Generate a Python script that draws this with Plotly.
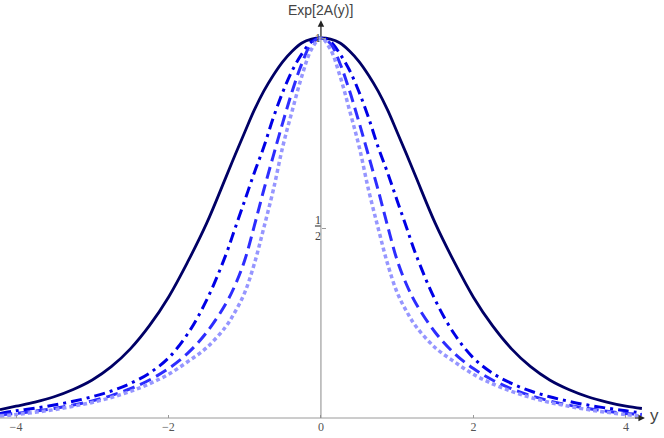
import plotly.graph_objects as go

# sample positions (y)
y_pos = [-4.21, -4.0, -3.75, -3.5, -3.25, -3.0, -2.75, -2.5, -2.25, -2.0, -1.75, -1.5, -1.25, -1.125, -1.0,
         -0.875, -0.75, -0.625, -0.5, -0.375, -0.25, -0.125,
         0.0,
         0.125, 0.25, 0.375, 0.5, 0.625, 0.75, 0.875, 1.0, 1.125, 1.25, 1.5, 1.75, 2.0, 2.25, 2.5, 2.75,
         3.0, 3.25, 3.5, 3.75, 4.0, 4.21]

# Exp[2A(y)] values
solid = [0.022, 0.031, 0.042, 0.056, 0.075, 0.1, 0.135, 0.182, 0.243, 0.318, 0.41, 0.512, 0.632, 0.693, 0.752,
         0.81, 0.86, 0.902, 0.938, 0.966, 0.987, 0.997,
         1.0,
         0.997, 0.987, 0.966, 0.938, 0.902, 0.86, 0.81, 0.752, 0.693, 0.632, 0.512, 0.41, 0.318, 0.243, 0.182, 0.135,
         0.1, 0.075, 0.056, 0.042, 0.031, 0.025]
dashdot = [0.012, 0.019, 0.026, 0.034, 0.044, 0.056, 0.071, 0.091, 0.118, 0.158, 0.221, 0.31, 0.428, 0.50, 0.572,
           0.645, 0.713, 0.79, 0.858, 0.915, 0.958, 0.99,
           1.0,
           0.99, 0.958, 0.915, 0.858, 0.79, 0.713, 0.645, 0.572, 0.50, 0.428, 0.31, 0.221, 0.158, 0.118, 0.091, 0.071,
           0.056, 0.044, 0.034, 0.026, 0.019, 0.013]
dashed = [0.008, 0.012, 0.018, 0.025, 0.034, 0.045, 0.059, 0.077, 0.1, 0.13, 0.17, 0.225, 0.30, 0.35, 0.415,
          0.505, 0.60, 0.69, 0.778, 0.861, 0.933, 0.985,
          1.0,
          0.985, 0.933, 0.861, 0.778, 0.69, 0.60, 0.505, 0.415, 0.35, 0.30, 0.225, 0.17, 0.13, 0.1, 0.077, 0.059,
          0.045, 0.034, 0.025, 0.018, 0.012, 0.009]
dotted = [0.005, 0.009, 0.015, 0.022, 0.031, 0.041, 0.054, 0.07, 0.09, 0.115, 0.148, 0.185, 0.24, 0.28, 0.33,
          0.405, 0.5, 0.6, 0.715, 0.81, 0.9, 0.97,
          1.0,
          0.97, 0.9, 0.81, 0.715, 0.6, 0.5, 0.405, 0.33, 0.28, 0.24, 0.185, 0.148, 0.115, 0.09, 0.07, 0.054,
          0.041, 0.031, 0.022, 0.015, 0.009, 0.005]

x_ticks = [-4, -2, 0, 2, 4]
x_tick_text = ["\u22124", "\u22122", "0", "2", "4"]
y_ticks = [0.5, 1.0]
y_tick_text = ["<u>1</u><br>2", "1"]

series = [
    (solid, "rgb(0,0,102)", "solid", 2.8),
    (dashdot, "rgb(0,0,230)", "11px,5px,3px,5px", 3.0),
    (dashed, "rgb(45,45,255)", "12px,6px", 3.0),
    (dotted, "rgb(150,150,255)", "4px,3px", 3.5),
]

fig = go.Figure()
for vals, col, dash, w in series:
    fig.add_trace(go.Scatter(x=y_pos, y=vals, mode="lines",
                             line=dict(color=col, dash=dash, width=w, shape="spline", smoothing=1.0),
                             hoverinfo="skip", showlegend=False))

axis_col = "#9a9a9a"
# axes with arrowheads
fig.add_shape(type="line", x0=-4.25, x1=4.2, y0=0, y1=0, line=dict(color=axis_col, width=1))
fig.add_annotation(x=4.25, y=0, ax=4.1, ay=0, xref="x", yref="y", axref="x", ayref="y",
                   text="", showarrow=True, arrowhead=2, arrowsize=1.3, arrowwidth=1, arrowcolor="#222")
fig.add_shape(type="line", x0=0, x1=0, y0=0, y1=1.035, line=dict(color="#8a8a8a", width=1))
fig.add_annotation(x=0, y=1.047, ax=0, ay=1.0, xref="x", yref="y", axref="x", ayref="y",
                   text="", showarrow=True, arrowhead=2, arrowsize=1.3, arrowwidth=1, arrowcolor="#222")

fig.add_annotation(x=0, y=1.047, xref="x", yref="y", text="Exp[2A(y)]", showarrow=False,
                   yanchor="bottom", yshift=0, font=dict(family="Liberation Sans, Arial", size=14, color="#444"))
fig.add_annotation(x=4.29, y=0, xref="x", yref="y", text="y", showarrow=False,
                   xanchor="left", yshift=3, font=dict(family="Liberation Sans, Arial", size=17, color="#444"))

fig.update_layout(
    width=664, height=438,
    margin=dict(l=0, r=0, t=0, b=0, pad=0, autoexpand=False),
    paper_bgcolor="white", plot_bgcolor="white",
    xaxis=dict(range=[-4.21, 4.5], showgrid=False, zeroline=False, showline=False, automargin=False,
               tickvals=x_ticks, ticktext=x_tick_text, ticks="inside", ticklen=3, tickcolor=axis_col,
               anchor="free", position=20 / 438,
               tickfont=dict(family="Liberation Serif, Times New Roman", size=12, color="#555")),
    yaxis=dict(range=[-20 / 380, 1.1], showgrid=False, zeroline=False, showline=False, automargin=False,
               tickvals=y_ticks, ticktext=y_tick_text, ticks="inside", ticklen=4, tickcolor=axis_col,
               anchor="free", position=4.21 / 8.71,
               tickfont=dict(family="Liberation Serif, Times New Roman", size=12, color="#444")),
)

fig.write_html("out.html", config={"displayModeBar": False},
               post_script="document.body.style.margin='0';")
